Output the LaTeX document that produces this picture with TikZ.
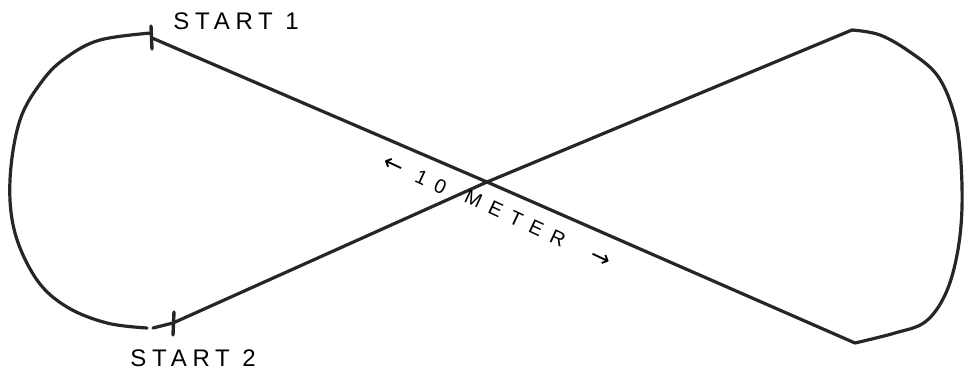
\documentclass[tikz,border=0pt]{standalone}
\usepackage{fontspec}
\newfontfamily\handfont[LetterSpace=24]{Liberation Sans}
\newfontfamily\wideHand[LetterSpace=48]{Liberation Sans}
\newfontfamily\arrowfont{DejaVu Sans}
\begin{document}
\begin{tikzpicture}[x=1pt,y=-1pt,line join=round,line cap=round,
  track/.style={line width=3.2pt,black!85},
  tickmark/.style={line width=3.4pt,black!85},
  lbl/.style={font=\handfont\fontsize{24}{28}\selectfont,inner sep=0pt},
  lenlbl/.style={font=\wideHand\fontsize{20}{24}\selectfont,inner sep=0pt,rotate=-25}]
\useasboundingbox (0,0) rectangle (965,374);
% Points of the figure eight (pixel grid, y downwards).
\coordinate (s1) at (152,38);
\coordinate (s2) at (173,323);
\coordinate (s2a) at (153,328);
\coordinate (ctr) at (487,182);
\coordinate (ne) at (852,30);
\coordinate (se) at (855,343);
% Left loop, open just before the second start.
\draw[track] plot[smooth,tension=0.6] coordinates {(151,33) (100,40) (67,57) (43,80)
  (20,120) (10,180) (15,233) (37,280) (67,307) (107,323) (147,328)};
\draw[track] (s2a)--(s2);
% Right loop.
\draw[track] plot[smooth,tension=0.6] coordinates {(852,30) (880,35) (910,52) (937,75)
  (953,110) (960,150) (962,207) (957,255) (945,295) (925,322) (895,333) (855,343)};
% The two straights crossing in the middle.
\draw[track] (s1)--(ctr)--(se);
\draw[track] (s2)--(ctr)--(ne);
% Start marks.
\draw[tickmark] (151,26)--(152,49);
\draw[tickmark] (174,312)--(173,335);
\node[lbl] (lab1) at (236,21) {START 1};
\node[lbl] (lab2) at (193,358) {START 2};
% Length of the straight, written either side of the crossing.
\node[lenlbl] (len1) at (415,175) {{\arrowfont\fontsize{24}{24}\selectfont ←}\ 10};
\node[lenlbl] (len2) at (538,229) {METER\ \ {\arrowfont\fontsize{24}{24}\selectfont →}};
\end{tikzpicture}
\end{document}
